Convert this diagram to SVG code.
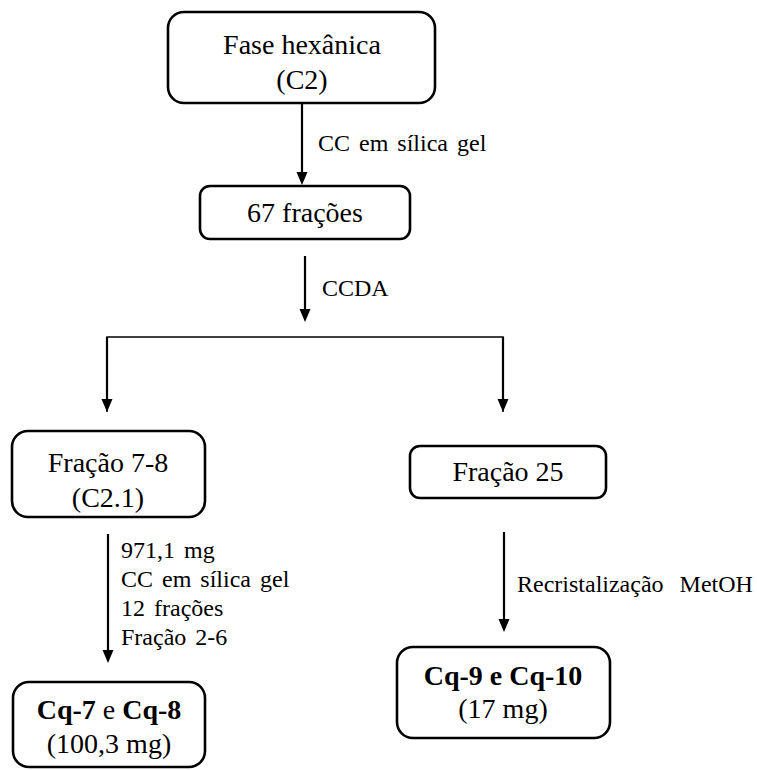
<svg xmlns="http://www.w3.org/2000/svg" width="757" height="770" viewBox="0 0 757 770">
  <style>
    .box { fill: #ffffff; stroke: #000000; stroke-width: 2.6; }
    .t { font-size: 28px; text-anchor: middle; }
    .b { font-weight: bold; }
    .lbl { font-size: 24px; word-spacing: 3px; }
    .wide { word-spacing: 10px; }
    .conn { fill: none; stroke: #000000; stroke-width: 2.2; }
    .thin { fill: none; stroke: #000000; stroke-width: 1.5; }
    .head { fill: #000000; }
  </style>

  <!-- connectors and their labels -->
  <g id="connectors">
    <line class="conn" x1="302" y1="103" x2="302" y2="174"/>
    <path class="head" d="M296.5,172 L307.5,172 L302,185 Z"/>
    <line class="conn" x1="305" y1="256" x2="305" y2="311"/>
    <path class="head" d="M299.5,309 L310.5,309 L305,322 Z"/>
    <polyline class="thin" points="107,412 107,337 503,337 503,412"/>
    <line class="conn" x1="107" y1="337" x2="107" y2="401"/>
    <path class="head" d="M101.5,399 L112.5,399 L107,412 Z"/>
    <line class="conn" x1="503" y1="337" x2="503" y2="401"/>
    <path class="head" d="M497.5,399 L508.5,399 L503,412 Z"/>
    <line class="conn" x1="108" y1="534" x2="108" y2="652"/>
    <path class="head" d="M102.5,650 L113.5,650 L108,663 Z"/>
    <line class="conn" x1="504" y1="532" x2="504" y2="621"/>
    <path class="head" d="M498.5,619 L509.5,619 L504,632 Z"/>
    <g font-family="Liberation Serif, Times New Roman, serif" fill="#000000">
      <text class="lbl" x="318" y="151">CC em sílica gel</text>
      <text class="lbl" x="322" y="296">CCDA</text>
      <text class="lbl" x="121" y="558">971,1 mg</text>
      <text class="lbl" x="121" y="587">CC em sílica gel</text>
      <text class="lbl" x="121" y="616">12 frações</text>
      <text class="lbl" x="121" y="645">Fração 2-6</text>
      <text class="lbl wide" x="517" y="592">Recristalização MetOH</text>
    </g>
  </g>

  <g id="nodes" font-family="Liberation Serif, Times New Roman, serif" fill="#000000">
    <g id="fase-hexanica">
      <rect class="box" x="168" y="12" width="267" height="91" rx="16"/>
      <text class="t" x="302" y="54">Fase hexânica</text>
      <text class="t" x="302" y="89">(C2)</text>
    </g>

    <g id="fracoes-67">
      <rect class="box" x="200" y="186" width="210" height="53" rx="10"/>
      <text class="t" x="305" y="222">67 frações</text>
    </g>

    <g id="fracao-7-8">
      <rect class="box" x="12" y="431" width="193" height="86" rx="16"/>
      <text class="t" x="108" y="472">Fração 7-8</text>
      <text class="t" x="108" y="507">(C2.1)</text>
    </g>

    <g id="fracao-25">
      <rect class="box" x="410" y="446" width="196" height="52" rx="10"/>
      <text class="t" x="508" y="481">Fração 25</text>
    </g>

    <g id="cq7-cq8">
      <rect class="box" x="13" y="682" width="192" height="85" rx="16"/>
      <text class="t" x="109" y="719"><tspan class="b">Cq-7</tspan> e <tspan class="b">Cq-8</tspan></text>
      <text class="t" x="109" y="753">(100,3 mg)</text>
    </g>

    <g id="cq9-cq10">
      <rect class="box" x="397" y="647" width="213" height="91" rx="16"/>
      <text class="t b" x="503" y="685">Cq-9 e Cq-10</text>
      <text class="t" x="503" y="718">(17 mg)</text>
    </g>
  </g>
</svg>
